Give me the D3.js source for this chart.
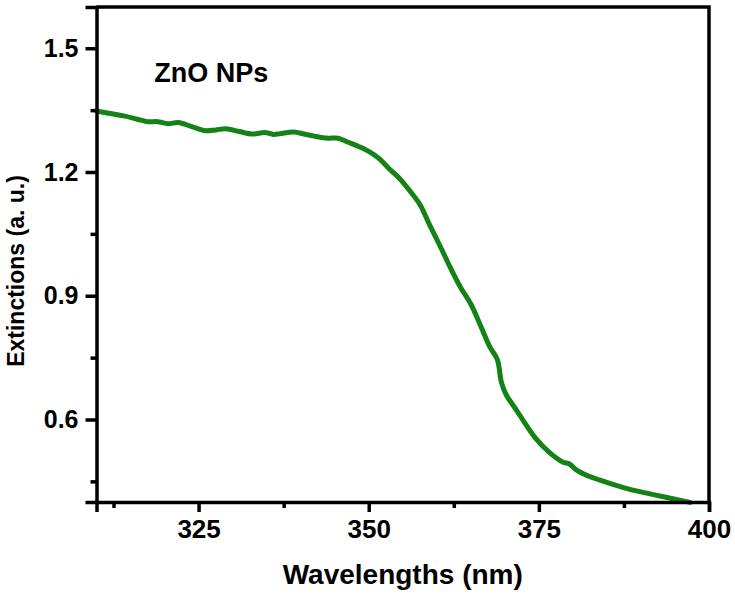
<!DOCTYPE html>
<html>
<head>
<meta charset="utf-8">
<title>ZnO NPs extinction</title>
<style>
  body { margin: 0; background: #fff; }
  svg { display: block; font-family: Arial, "Liberation Sans", Helvetica, sans-serif; font-weight: bold; }
  .axis path, .axis line { stroke: #000; stroke-width: 3.5; }
</style>
</head>
<body>
<svg width="735" height="596"></svg>
<script src="https://d3js.org/d3.v7.min.js"></script>
<script>

// spectrum
var wavelengths = [310, 312, 314, 316, 317.5, 319, 320.5, 322, 324, 326, 327.5, 329, 331, 333, 334.7, 336, 337,
  339, 340.5, 342, 344, 345.5, 347, 348.5, 350, 351.5, 353, 354.5, 356, 357.5, 359, 360.5, 362, 363.5, 365,
  366.5, 367.8, 368.9, 369.5, 370.2, 371.7, 373, 374.5, 376.5, 378.5, 379.5, 380.5, 382, 384, 386, 388.5,
  391, 393.5, 395.5, 397.2];
var extinction = [1.348, 1.342, 1.336, 1.328, 1.322, 1.322, 1.317, 1.320, 1.310, 1.300, 1.302, 1.305, 1.298,
  1.292, 1.296, 1.291, 1.293, 1.297, 1.292, 1.287, 1.282, 1.282, 1.272, 1.262, 1.250, 1.233, 1.208, 1.185,
  1.155, 1.122, 1.070, 1.020, 0.968, 0.920, 0.880, 0.825, 0.776, 0.745, 0.690, 0.660, 0.623, 0.590, 0.555,
  0.521, 0.497, 0.492, 0.478, 0.465, 0.453, 0.442, 0.430, 0.421, 0.412, 0.405, 0.399];

var xTicks = [325, 350, 375, 400];
var xMinor = [312.5, 337.5, 362.5, 387.5];
var yTicks = [0.6, 0.9, 1.2, 1.5];
var yMinor = [0.45, 0.75, 1.05, 1.35];

var svg = d3.select("svg"),
    margin = {top: 7, right: 26, bottom: 94, left: 96.5},
    width = +svg.attr("width") - margin.left - margin.right,
    height = +svg.attr("height") - margin.top - margin.bottom,
    g = svg.append("g").attr("transform", "translate(" + margin.left + "," + margin.top + ")");

var x = d3.scaleLinear().domain([310, 400]).range([0, width]);
var y = d3.scaleLinear().domain([0.4, 1.6]).range([height, 0]);

var data = wavelengths.map(function(w, i) { return {w: w, v: extinction[i]}; });

var line = d3.line()
  .x(function(d) { return x(d.w); })
  .y(function(d) { return y(d.v); })
  .curve(d3.curveCatmullRom);

g.append("path")
  .datum(data)
  .attr("fill", "none")
  .attr("stroke", "#148214")
  .attr("stroke-width", 5)
  .attr("stroke-linejoin", "round")
  .attr("stroke-linecap", "round")
  .attr("d", line);

// minor ticks
g.append("g").attr("class", "axis")
  .attr("transform", "translate(0," + height + ")")
  .call(d3.axisBottom(x).tickValues(xMinor).tickSize(6).tickFormat(""))
  .select(".domain").remove();
g.append("g").attr("class", "axis")
  .call(d3.axisLeft(y).tickValues(yMinor).tickSize(6).tickFormat(""))
  .select(".domain").remove();

// major ticks + frame
var xAxis = g.append("g").attr("class", "axis")
  .attr("transform", "translate(0," + height + ")")
  .call(d3.axisBottom(x).tickValues(xTicks).tickSizeOuter(0).tickSize(10).tickPadding(8));
xAxis.selectAll("text").attr("font-size", 26).attr("font-family", "Arial, 'Liberation Sans', sans-serif")
  .attr("font-weight", "bold").attr("fill", "#000");

var yAxis = g.append("g").attr("class", "axis")
  .call(d3.axisLeft(y).tickValues(yTicks).tickSizeOuter(0).tickSize(11).tickPadding(7).tickFormat(d3.format(".1f")));
yAxis.selectAll("text").attr("font-size", 25).attr("font-family", "Arial, 'Liberation Sans', sans-serif")
  .attr("font-weight", "bold").attr("fill", "#000");

g.append("path")
  .attr("fill", "none")
  .attr("stroke", "#000")
  .attr("stroke-width", 3.5)
  .attr("d", "M0,0H" + width + "V" + height);

g.append("text")
  .attr("x", x(318.5))
  .attr("y", y(1.418))
  .attr("font-size", 27)
  .text("ZnO NPs");

svg.append("text")
  .attr("x", margin.left + x(355))
  .attr("y", 584)
  .attr("text-anchor", "middle")
  .attr("font-size", 28)
  .text("Wavelengths (nm)");

svg.append("text")
  .attr("transform", "translate(24," + 271 + ") rotate(-90)")
  .attr("text-anchor", "middle")
  .attr("font-size", 23)
  .text("Extinctions (a. u.)");

</script>
</body>
</html>
